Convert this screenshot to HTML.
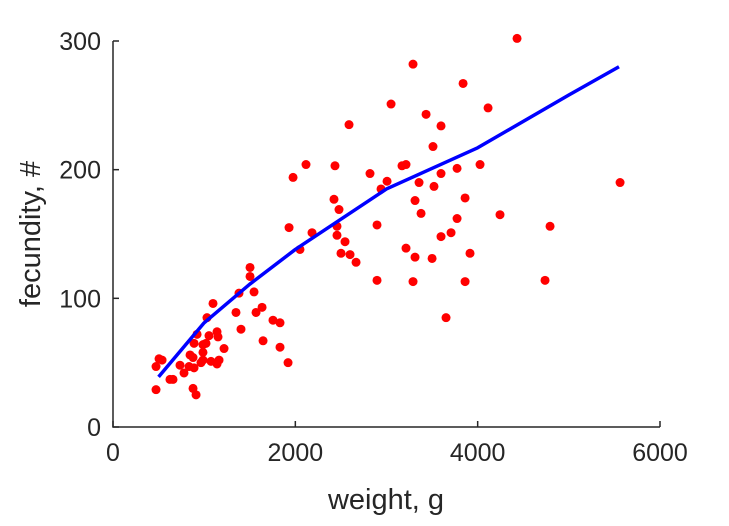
<!DOCTYPE html>
<html><head><meta charset="utf-8"><style>
body{margin:0;background:#fff}
text{font-family:"Liberation Sans",sans-serif;fill:#262626}
</style></head><body>
<svg id="chart" width="729" height="521" xmlns="http://www.w3.org/2000/svg">
<g id="axes"></g>
<g id="pts"></g>
<g id="fit"></g>
<text x="386" y="509" font-size="29" text-anchor="middle">weight, g</text>
<text transform="translate(40,234) rotate(-90)" font-size="29" text-anchor="middle">fecundity, #</text>
</svg>
<script>
const xTicks=[0,2000,4000,6000];
const yTicks=[0,100,200,300];
const weightX=[472,505,538,472,625,658,735,779,834,889,878,911,845,878,965,987,987,889,987,1020,922,1053,1141,1152,1075,1141,1163,1218,1031,1097,1349,1404,1382,1503,1503,1547,1569,1635,1646,1755,1832,1832,1920,2051,1931,1975,2117,2183,2435,2424,2479,2457,2457,2545,2501,2600,2666,2589,2819,2940,3006,2896,2896,3050,3170,3214,3291,3357,3313,3379,3214,3313,3291,3434,3510,3598,3598,3521,3774,3862,3774,3708,3598,3500,3916,3862,3653,3840,4114,4026,4245,4432,4794,4739,5562];
const fecundityY=[29,53,52,47,37,37,48,42,47,46,30,25,56,54,50,52,58,65,64,65,72,71,74,70,51,49,52,61,85,96,89,76,104,124,117,105,89,93,67,83,81,62,50,138,155,194,204,151,203,177,169,156,149,144,135,134,128,235,197,185,191,157,114,251,203,204,282,190,176,166,139,132,113,243,218,234,197,187,201,178,162,151,148,131,135,113,85,267,248,204,165,302,156,114,190];
const fitX=[500,1000,1500,2000,3000,4000,5000,5550];
const fitY=[39,81,111,138,185,217,258,280];
const X0=113,X1=660,Y0=427,Y1=41;
const sx=v=>X0+(v-0)/6000*(X1-X0);
const sy=v=>Y0-(v-0)/300*(Y0-Y1);
const NS="http://www.w3.org/2000/svg";
function mk(t,a){const e=document.createElementNS(NS,t);for(const k in a)e.setAttribute(k,a[k]);return e;}
const axes=document.getElementById('axes');
let l=mk('path',{d:`M${X0},${Y1}V${Y0}H${X1}`,stroke:'#262626','stroke-width':1.5,fill:'none'});


axes.appendChild(l);
xTicks.forEach(v=>{
 const t=mk('line',{x1:sx(v),x2:sx(v),y1:Y0,y2:Y0-6,stroke:'#262626','stroke-width':1.5});
 
 
 axes.appendChild(t);
 const tx=mk('text',{x:sx(v),y:Y0+34,'font-size':25,'text-anchor':'middle'});tx.textContent=v;
 
 
 axes.appendChild(tx);
});
yTicks.forEach(v=>{
 const t=mk('line',{x1:X0,x2:X0+6,y1:sy(v),y2:sy(v),stroke:'#262626','stroke-width':1.5});
 
 
 axes.appendChild(t);
 const tx=mk('text',{x:X0-12,y:sy(v)+9,'font-size':25,'text-anchor':'end'});tx.textContent=v;
 
 
 axes.appendChild(tx);
});
const pts=document.getElementById('pts');
weightX.forEach((x,i)=>{
 const c=mk('circle',{cx:sx(x),cy:sy(fecundityY[i]),r:4.5,fill:'#ff0000'});
 
 
 pts.appendChild(c);
});
const d=fitX.map((x,i)=>(i?'L':'M')+sx(x)+','+sy(fitY[i])).join('');
const p=mk('path',{d:d,stroke:'#0000ff','stroke-width':3.5,fill:'none','stroke-linejoin':'round'});


document.getElementById('fit').appendChild(p);
</script>
</body></html>
